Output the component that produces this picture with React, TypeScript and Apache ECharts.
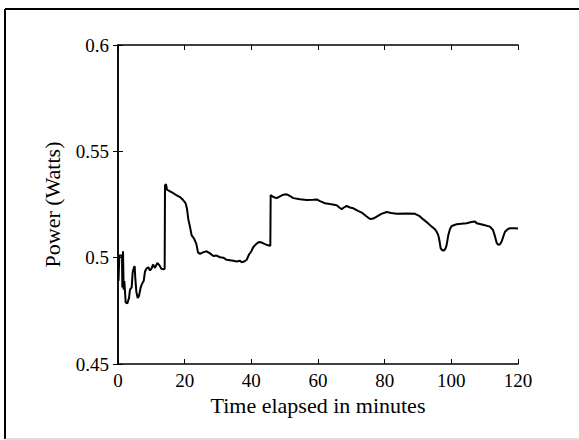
import React, { useEffect, useRef } from "react";
import * as echarts from "echarts";

const timeMinutes: number[] = [
  0, 0.15, 0.35, 0.4, 1.2, 1.3, 1.45, 1.5, 1.65, 1.7, 1.9, 2.1, 2.3, 2.8, 3.3, 3.6, 4.1, 4.4, 4.8, 5.0,
  5.2, 5.5, 5.9, 6.3, 6.8, 7.3, 7.7, 8.1, 8.6, 9.1, 9.6, 10.1, 10.5, 11.1, 11.8, 12.4, 13.0, 13.6, 14.0, 14.1,
  14.4, 14.7, 15.6, 16.6, 17.6, 18.6, 19.6, 20.3, 20.7, 21.1, 21.6, 22.1, 22.8, 23.5, 24.0, 24.6, 25.5, 26.6, 27.6, 28.6,
  29.6, 30.6, 31.6, 32.6, 33.6, 34.6, 35.6, 36.6, 37.1, 38.0, 38.6, 39.3, 40.0, 40.6, 41.5, 42.4, 43.3, 44.1, 45.0, 45.7,
  45.8, 46.6, 47.6, 48.6, 49.6, 50.6, 51.6, 52.6, 54.6, 56.6, 58.6, 59.6, 60.6, 62.1, 63.6, 65.6, 66.5, 67.1, 68.0, 68.6,
  69.6, 70.6, 72.0, 73.1, 74.5, 75.6, 76.6, 77.6, 79.0, 80.6, 82.0, 83.6, 86.6, 89.1, 90.5, 91.6, 93.0, 94.1, 95.0, 95.6,
  96.1, 96.4, 96.8, 97.3, 97.8, 98.3, 98.6, 99.1, 99.6, 100.1, 101.6, 103.0, 104.6, 106.0, 107.1, 107.6, 109.5, 111.6, 112.5, 113.1,
  113.6, 114.1, 114.6, 115.1, 115.6, 116.1, 117.0, 117.6, 119.0, 120,
];

const powerWatts: number[] = [
  0.5, 0.489, 0.489, 0.501, 0.501, 0.486, 0.487, 0.503, 0.503, 0.485, 0.489, 0.484, 0.479, 0.4785, 0.481, 0.485, 0.486, 0.493, 0.4955, 0.496,
  0.49, 0.484, 0.481, 0.482, 0.486, 0.488, 0.489, 0.4935, 0.495, 0.4955, 0.494, 0.495, 0.4968, 0.4952, 0.4975, 0.4965, 0.4948, 0.4945, 0.4948, 0.534,
  0.5345, 0.532, 0.5312, 0.5303, 0.5293, 0.5285, 0.527, 0.5255, 0.523, 0.518, 0.5145, 0.5105, 0.509, 0.5065, 0.5025, 0.5018, 0.5025, 0.503, 0.502, 0.5008,
  0.501, 0.5002, 0.5, 0.499, 0.4988, 0.4985, 0.4982, 0.4985, 0.4978, 0.4983, 0.499, 0.5015, 0.503, 0.505, 0.5065, 0.5074, 0.507, 0.5064, 0.5058, 0.5056,
  0.5295, 0.5285, 0.528, 0.5288, 0.5296, 0.5298, 0.529, 0.528, 0.5275, 0.5271, 0.5272, 0.5274, 0.5266, 0.5256, 0.5252, 0.5247, 0.5235, 0.5228, 0.5238, 0.5243,
  0.5236, 0.5232, 0.522, 0.5212, 0.5195, 0.5182, 0.5184, 0.5193, 0.5206, 0.5215, 0.521, 0.5207, 0.5208, 0.5206, 0.5195, 0.518, 0.5162, 0.5146, 0.5135, 0.5122,
  0.5105, 0.5083, 0.5044, 0.5035, 0.5033, 0.5045, 0.506, 0.5107, 0.5135, 0.5149, 0.5157, 0.516, 0.5162, 0.5168, 0.517, 0.5162, 0.5155, 0.5146, 0.513, 0.51,
  0.507, 0.506, 0.5063, 0.5076, 0.51, 0.5122, 0.5135, 0.5138, 0.5138, 0.5137,
];

const xTicks: number[] = [0, 20, 40, 60, 80, 100, 120];
const yTicks: string[] = ["0.45", "0.5", "0.55", "0.6"];

const xTitle = "Time elapsed in minutes";
const yTitle = "Power (Watts)";

const FONT = "'Liberation Serif', 'Times New Roman', serif";

export default function App() {
  const ref = useRef<HTMLDivElement>(null);

  useEffect(() => {
    if (!ref.current) return;
    const chart = echarts.init(ref.current, undefined, { renderer: "svg" });
    const data = timeMinutes.map((t, i) => [t, powerWatts[i]]);
    const yLabel = (v: number) => {
      const s = yTicks.find((l) => Math.abs(parseFloat(l) - v) < 1e-9);
      return s ?? "";
    };
    const axisLine = { show: true, lineStyle: { color: "#000", width: 1.5 } };
    const tick = { show: true, inside: true, length: 5, lineStyle: { color: "#000", width: 1 } };
    chart.setOption({
      animation: false,
      backgroundColor: "#fff",
      grid: { left: 118, right: 61, top: 45, bottom: 76, containLabel: false },
      xAxis: [
        {
          type: "value",
          min: xTicks[0],
          max: xTicks[xTicks.length - 1],
          interval: 20,
          position: "bottom",
          axisLine,
          axisTick: tick,
          splitLine: { show: false },
          axisLabel: { color: "#000", fontFamily: FONT, fontSize: 19, margin: 7 },
          name: xTitle,
          nameLocation: "middle",
          nameGap: 26,
          nameTextStyle: { color: "#000", fontFamily: FONT, fontSize: 22 },
        },
        {
          type: "value",
          min: xTicks[0],
          max: xTicks[xTicks.length - 1],
          interval: 20,
          position: "top",
          axisLine,
          axisTick: tick,
          splitLine: { show: false },
          axisLabel: { show: false },
        },
      ],
      yAxis: [
        {
          type: "value",
          min: 0.45,
          max: 0.6,
          interval: 0.05,
          position: "left",
          axisLine,
          axisTick: tick,
          splitLine: { show: false },
          axisLabel: { color: "#000", fontFamily: FONT, fontSize: 19, margin: 9, formatter: yLabel },
          name: yTitle,
          nameLocation: "middle",
          nameGap: 55,
          nameTextStyle: { color: "#000", fontFamily: FONT, fontSize: 22 },
        },
        {
          type: "value",
          min: 0.45,
          max: 0.6,
          interval: 0.05,
          position: "right",
          axisLine,
          axisTick: tick,
          splitLine: { show: false },
          axisLabel: { show: false },
        },
      ],
      series: [
        {
          type: "line",
          data,
          xAxisIndex: 0,
          yAxisIndex: 0,
          showSymbol: false,
          lineStyle: { color: "#000", width: 2 },
          smooth: false,
        },
      ],
      graphic: [
        { type: "line", shape: { x1: 5, y1: 9, x2: 579, y2: 9 }, style: { stroke: "#000", lineWidth: 2 } },
        { type: "line", shape: { x1: 5, y1: 9, x2: 5, y2: 439 }, style: { stroke: "#000", lineWidth: 2 } },
        { type: "line", shape: { x1: 5, y1: 439, x2: 579, y2: 439 }, style: { stroke: "#bbb", lineWidth: 1 } },
      ],
    });
    return () => chart.dispose();
  }, []);

  return (
    <div
      ref={ref}
      style={{ position: "fixed", left: 0, top: 0, width: 579, height: 440, background: "#fff" }}
    />
  );
}
